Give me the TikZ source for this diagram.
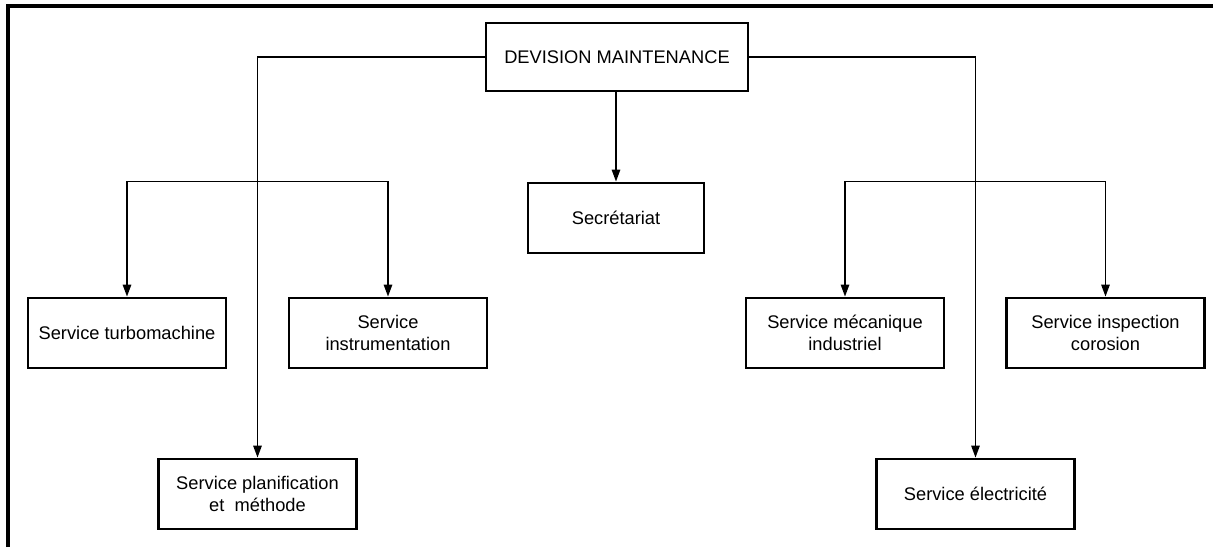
\documentclass[tikz,border=0pt]{standalone}
\usepackage{fontspec}
\setmainfont{Liberation Sans}
\usepackage{tikz}
\usetikzlibrary{arrows.meta}

\tikzset{
  unit/.style={draw, line width=2pt, minimum width=4.95cm, minimum height=1.75cm,
    align=center, inner sep=2pt, font=\fontsize{13}{15.6}\selectfont},
  link/.style={-{Triangle[length=8.5pt,width=6pt]}, line width=1pt},
}

\begin{document}
\begin{tikzpicture}
  \useasboundingbox (0,0) rectangle (30.325,13.675);
  % cadre
  \draw[line width=2.2pt] (0.2,0) -- (0.2,13.525) -- (30.325,13.525);

  % direction
  \node[unit, minimum width=6.55cm, minimum height=1.7cm] (div) at (15.425,12.25) {DEVISION MAINTENANCE};
  \node[unit, minimum width=4.4cm] (secr) at (15.4,8.225) {Secrétariat};

  % services
  \node[unit] (turbo) at (3.175,5.35) {Service turbomachine};
  \node[unit] (instr) at (9.7,5.35) {Service\\instrumentation};
  \node[unit] (plan) at (6.4375,1.325) {Service planification\\et~~méthode};
  \node[unit] (meca) at (21.125,5.35) {Service mécanique\\industriel};
  \node[unit] (insp) at (27.6375,5.35) {Service inspection\\corosion};
  \node[unit] (elec) at (24.3875,1.325) {Service électricité};

  \coordinate (lbus) at (plan |- secr.north);
  \coordinate (rbus) at (elec |- secr.north);

  % liaisons
  \draw[link] (div.south -| secr) -- (secr);
  \draw[link] (div.west) -| (plan);
  \draw[link] (div.east) -| (elec);
  \draw[link] (lbus) -| (turbo);
  \draw[link] (lbus) -| (instr);
  \draw[link] (rbus) -| (meca);
  \draw[link] (rbus) -| (insp);
\end{tikzpicture}
\end{document}
